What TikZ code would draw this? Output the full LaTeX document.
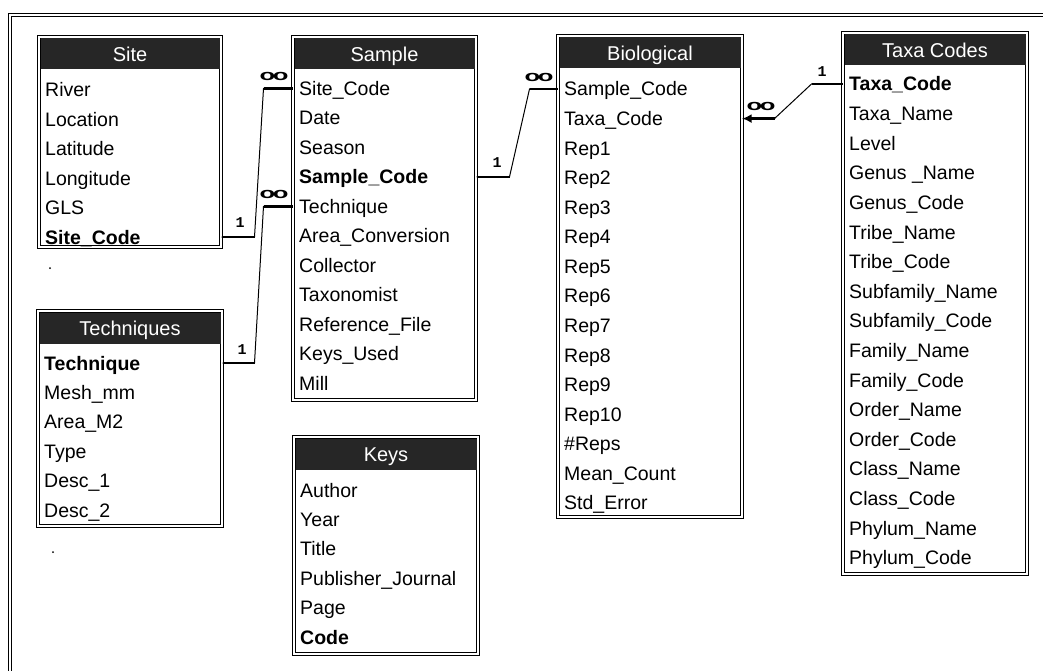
\documentclass[tikz,border=0pt]{standalone}
\usepackage{amsmath,amssymb}
\usepackage{fontspec}
\newfontfamily\fieldfont{Liberation Sans}
\newfontfamily\cardfont{Liberation Mono}
\usetikzlibrary{arrows.meta,positioning,calc}
\newcommand{\manyend}{\scalebox{1.6}[0.95]{\fieldfont\bfseries o\kern-1.5pt o}}

\begin{document}
\begin{tikzpicture}[x=1pt,y=-1pt,>=Latex,
  entity/.style={draw,double,double distance=2pt,line width=1pt,anchor=north west,inner sep=0pt},
  headband/.style={fill=black!85},
  heading/.style={text=white,font=\fieldfont\fontsize{20}{22}\selectfont,inner sep=0pt,text height=14pt,text depth=0pt},
  field/.style={anchor=west,font=\fieldfont\fontsize{19.5}{22}\selectfont,inner sep=0pt,text height=14pt,text depth=0pt},
  rel/.style={line width=1pt},
  stub/.style={line width=2.6pt},
  one/.style={font=\cardfont\bfseries\fontsize{15}{15}\selectfont,inner sep=0pt},
  many/.style={font=\fontsize{16}{16}\selectfont,inner sep=0pt},
  frame/.style={draw,double,double distance=2.2pt,line width=1.2pt}]
  \useasboundingbox (0,0) rectangle (1043,671);
  \clip (0,0) rectangle (1043,671);
  \draw[frame] (10,15) rectangle (1100,720);

  % Site
  \node[entity,minimum width=182pt,minimum height=210pt] (site) at (38.5,36.5) {};
  \fill[headband] ($(site.north west)+(2,2)$) rectangle ($(site.north east)+(-2,33)$);
  \node[heading] (site-t) at ($(site.north)+(0,18)$) {Site};
  \foreach \f [count=\i] in {River,Location,Latitude,Longitude,GLS,{\bfseries Site\_Code}}
    \node[field] (site-\i) at (45,{90+29.4*(\i-1)}) {\f};

  % Sample
  \node[entity,minimum width=183pt,minimum height=363pt] (sample) at (292.5,36.5) {};
  \fill[headband] ($(sample.north west)+(2,2)$) rectangle ($(sample.north east)+(-2,33)$);
  \node[heading] (sample-t) at ($(sample.north)+(0,18)$) {Sample};
  \foreach \f [count=\i] in {Site\_Code,Date,Season,{\bfseries Sample\_Code},Technique,Area\_Conversion,
      Collector,Taxonomist,Reference\_File,Keys\_Used,Mill}
    \node[field] (sample-\i) at (299,{88.5+29.45*(\i-1)}) {\f};

  % Biological
  \node[entity,minimum width=184pt,minimum height=481pt] (bio) at (557.5,35.5) {};
  \fill[headband] ($(bio.north west)+(2,2)$) rectangle ($(bio.north east)+(-2,33)$);
  \node[heading] (bio-t) at ($(bio.north)+(0,18)$) {Biological};
  \foreach \f [count=\i] in {Sample\_Code,Taxa\_Code,Rep1,Rep2,Rep3,Rep4,Rep5,Rep6,Rep7,Rep8,Rep9,Rep10,
      \#Reps,Mean\_Count,Std\_Error}
    \node[field] (bio-\i) at (564,{89+29.57*(\i-1)}) {\f};

  % Taxa Codes
  \node[entity,minimum width=184pt,minimum height=541pt] (taxa) at (842.5,32.5) {};
  \fill[headband] ($(taxa.north west)+(2,2)$) rectangle ($(taxa.north east)+(-2,33)$);
  \node[heading] (taxa-t) at ($(taxa.north)+(0,18)$) {Taxa Codes};
  \foreach \f [count=\i] in {{\bfseries Taxa\_Code},Taxa\_Name,Level,Genus \_Name,Genus\_Code,Tribe\_Name,
      Tribe\_Code,Subfamily\_Name,Subfamily\_Code,Family\_Name,Family\_Code,Order\_Name,Order\_Code,
      Class\_Name,Class\_Code,Phylum\_Name,Phylum\_Code}
    \node[field] (taxa-\i) at (849,{84+29.6*(\i-1)}) {\f};

  % Techniques
  \node[entity,minimum width=184pt,minimum height=215pt] (tech) at (37.5,310.5) {};
  \fill[headband] ($(tech.north west)+(2,2)$) rectangle ($(tech.north east)+(-2,33)$);
  \node[heading] (tech-t) at ($(tech.north)+(0,18)$) {Techniques};
  \foreach \f [count=\i] in {{\bfseries Technique},Mesh\_mm,Area\_M2,Type,Desc\_1,Desc\_2}
    \node[field] (tech-\i) at (44,{363+29.4*(\i-1)}) {\f};

  % Keys
  \node[entity,minimum width=184pt,minimum height=217pt] (keys) at (293.5,436.5) {};
  \fill[headband] ($(keys.north west)+(2,2)$) rectangle ($(keys.north east)+(-2,33)$);
  \node[heading] (keys-t) at ($(keys.north)+(0,18)$) {Keys};
  \foreach \f [count=\i] in {Author,Year,Title,Publisher\_Journal,Page,{\bfseries Code}}
    \node[field] (keys-\i) at (300,{490+29.4*(\i-1)}) {\f};

  % relationships
  \draw[rel] (site.east |- site-6) -- ++(33,0) -- ($(sample.west |- sample-1)+(-29,0)$) -- (sample.west |- sample-1);
  \draw[stub] (site.east |- site-6) -- ++(33,0);
  \draw[stub] (sample.west |- sample-1) -- ++(-29,0);
  \node[one] (n1) at (240,223) {1};
  \node[many] (m1) at (274,76) {\manyend};

  \draw[rel] (tech.east |- tech-1) -- ++(32,0) -- ($(sample.west |- sample-5)+(-29,0)$) -- (sample.west |- sample-5);
  \draw[stub] (tech.east |- tech-1) -- ++(32,0);
  \draw[stub] (sample.west |- sample-5) -- ++(-29,0);
  \node[one] (n2) at (242,350) {1};
  \node[many] (m2) at (274,194) {\manyend};

  \draw[rel] (sample.east |- sample-4) -- ++(33,0) -- ($(bio.west |- bio-1)+(-28,0)$) -- (bio.west |- bio-1);
  \draw[stub] (sample.east |- sample-4) -- ++(33,0);
  \draw[stub] (bio.west |- bio-1) -- ++(-28,0);
  \node[one] (n3) at (497,163) {1};
  \node[many] (m3) at (539,77) {\manyend};

  \draw[rel] (taxa.west |- taxa-1) -- ++(-31,0) -- ($(bio.east |- bio-2)+(32,0)$) -- (bio.east |- bio-2);
  \draw[stub] (taxa.west |- taxa-1) -- ++(-31,0);
  \draw[stub,-{Latex[length=9pt,width=9pt]}] ($(bio.east |- bio-2)+(32,0)$) -- (bio.east |- bio-2);
  \node[one] (n4) at (822,72) {1};
  \node[many] (m4) at (761,106) {\manyend};

  % specks
  \fill (50,268) circle (1);
  \fill (53,552) circle (1);
\end{tikzpicture}
\end{document}
